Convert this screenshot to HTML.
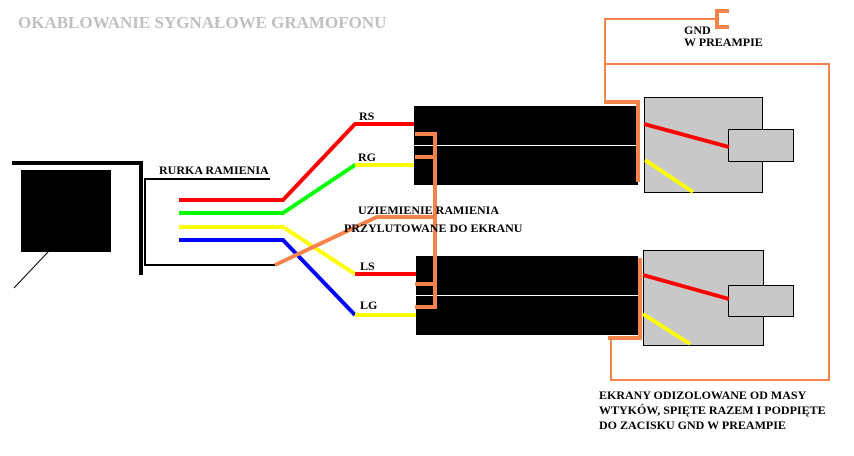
<!DOCTYPE html>
<html><head><meta charset="utf-8"><style>
html,body{margin:0;padding:0;background:#fff;}
svg{display:block;}
text{font-family:"Liberation Serif",serif;font-weight:bold;font-size:12px;fill:#000;}
</style></head><body>
<svg width="854" height="456" viewBox="0 0 854 456" xmlns="http://www.w3.org/2000/svg">
<text x="18" y="28" style="font-size:17px;fill:#c0c0c0">OKABLOWANIE SYGNAŁOWE GRAMOFONU</text>
<!-- left device -->
<rect x="21" y="170" width="90" height="82" fill="#000"/>
<line x1="48" y1="252" x2="14" y2="288" stroke="#000" stroke-width="1"/>
<line x1="12" y1="163" x2="141" y2="163" stroke="#000" stroke-width="4"/>
<line x1="141" y1="161" x2="141" y2="275" stroke="#000" stroke-width="4"/>
<polyline points="270,179 145,179 145,265 275,265" fill="none" stroke="#000" stroke-width="2"/>
<text x="159" y="174">RURKA RAMIENIA</text>
<!-- wires -->
<polyline points="179,200 283,200 355,124 414,124" fill="none" stroke="#f00" stroke-width="4"/>
<polyline points="179,213 283,213 355,165 414,165" fill="none" stroke="#0f0" stroke-width="4"/>
<line x1="355" y1="165" x2="414" y2="165" stroke="#ff0" stroke-width="4"/>
<polyline points="179,227 283,227 355,274" fill="none" stroke="#ff0" stroke-width="4"/>
<line x1="355" y1="274" x2="418" y2="274" stroke="#f00" stroke-width="4"/>
<polyline points="179,240 283,240 355,315" fill="none" stroke="#00f" stroke-width="4"/>
<line x1="355" y1="315" x2="418" y2="315" stroke="#ff0" stroke-width="4"/>
<text x="359" y="120">RS</text>
<text x="358" y="161">RG</text>
<text x="360" y="270">LS</text>
<text x="360" y="309">LG</text>
<!-- cables -->
<rect x="414" y="106" width="224" height="79" fill="#000"/>
<rect x="414" y="145" width="224" height="1" fill="#fff"/>
<rect x="416" y="256" width="222" height="79" fill="#000"/>
<rect x="416" y="295" width="222" height="1" fill="#fff"/>
<!-- plugs -->
<g fill="#c8c8c8" stroke="#000" stroke-width="1">
<rect x="644.5" y="97.5" width="118" height="95"/>
<rect x="728.5" y="129.5" width="65" height="32"/>
<rect x="643.5" y="250.5" width="120" height="95"/>
<rect x="728.5" y="285.5" width="65" height="31"/>
</g>
<line x1="644" y1="124" x2="729" y2="147" stroke="#f00" stroke-width="4"/>
<line x1="645" y1="160" x2="693" y2="192" stroke="#ff0" stroke-width="4"/>
<line x1="643" y1="275" x2="729" y2="299" stroke="#f00" stroke-width="4"/>
<line x1="643" y1="314" x2="690" y2="344" stroke="#ff0" stroke-width="4"/>
<!-- orange shield wiring -->
<g fill="none" stroke="#f4834c" stroke-width="4">
<polyline points="604,102 638,102 638,182"/>
<polyline points="608,338 640,338 640,258"/>
<polyline points="415,134 435,134 435,307 415,307"/>
<line x1="415" y1="157" x2="435" y2="157"/>
<line x1="415" y1="284" x2="435" y2="284"/>
<polyline points="435,217 377,217 275,265"/>
<polyline points="729,11 717,11 717,27 729,27"/>
</g>
<g fill="none" stroke="#f4834c" stroke-width="2">
<polyline points="605,102 605,19 716,19"/>
<polyline points="605,64 829,64 829,380 611,380 611,338"/>
</g>
<text x="684" y="34">GND</text>
<text x="684" y="46">W PREAMPIE</text>
<text x="358" y="214">UZIEMIENIE RAMIENIA</text>
<text x="344" y="232">PRZYLUTOWANE DO EKRANU</text>
<text x="599" y="399">EKRANY ODIZOLOWANE OD MASY</text>
<text x="599" y="414">WTYKÓW, SPIĘTE RAZEM I PODPIĘTE</text>
<text x="599" y="429">DO ZACISKU GND W PREAMPIE</text>
</svg>
</body></html>
